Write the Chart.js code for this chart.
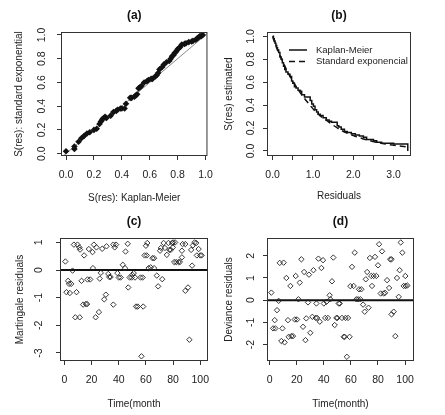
<!DOCTYPE html>
<html>
<head>
<meta charset="utf-8">
<script src="https://cdn.jsdelivr.net/npm/chart.js@4"></script>
<style>
  html, body { margin: 0; padding: 0; background: #fff; }
  #wrap { position: relative; width: 445px; height: 415px; }
  canvas { position: absolute; }
</style>
</head>
<body>
<div id="wrap">
  <canvas id="pa" width="222" height="207" style="left:0;top:0"></canvas>
  <canvas id="pb" width="222" height="207" style="left:222px;top:0"></canvas>
  <canvas id="pc" width="222" height="208" style="left:0;top:207px"></canvas>
  <canvas id="pd" width="222" height="208" style="left:222px;top:207px"></canvas>
</div>
<script>
// (a) survival of residuals: Kaplan-Meier vs standard exponential
const KM_SURV = [0.00,0.06,0.06,0.09,0.11,0.13,0.15,0.17,0.20,0.22,0.24,0.25,0.26,0.27,0.28,0.29,0.32,0.34,0.36,0.37,
  0.39,0.40,0.42,0.43,0.46,0.47,0.49,0.50,0.51,0.52,0.53,0.54,0.56,0.58,0.59,0.61,0.62,0.64,0.65,0.66,
  0.67,0.69,0.70,0.72,0.74,0.75,0.76,0.77,0.78,0.79,0.80,0.81,0.82,0.83,0.85,0.86,0.88,0.90,0.91,0.93,
  0.94,0.95,0.96,0.97,0.98];
const EXP_SURV = [0.02,0.04,0.06,0.10,0.13,0.15,0.17,0.18,0.20,0.21,0.25,0.27,0.29,0.30,0.31,0.30,0.32,0.35,0.36,0.37,
  0.38,0.38,0.38,0.42,0.47,0.47,0.48,0.49,0.50,0.55,0.56,0.57,0.60,0.61,0.62,0.63,0.63,0.65,0.66,0.68,
  0.71,0.73,0.75,0.77,0.78,0.80,0.82,0.83,0.85,0.86,0.88,0.89,0.90,0.92,0.925,0.93,0.94,0.945,0.95,0.96,
  0.97,0.98,0.99,0.99,1.00];

// (b) estimated S(res) against residuals
const KM_T = [0,0.02,0.04,0.06,0.08,0.1,0.12,0.15,0.18,0.21,0.24,0.27,0.3,0.33,0.38,0.43,0.47,0.5,0.54,0.58,
  0.63,0.68,0.72,0.79,0.93,0.97,1.01,1.05,1.09,1.13,1.18,1.25,1.33,1.4,1.46,1.6,1.64,1.7,1.78,1.85,
  1.95,2.05,2.15,2.25,2.33,2.5,2.58,2.7,3.0,3.35];
const KM_S = [1.0,0.98,0.96,0.94,0.92,0.9,0.88,0.86,0.82,0.8,0.77,0.74,0.71,0.69,0.67,0.65,0.61,0.59,0.56,0.55,
  0.53,0.52,0.49,0.47,0.44,0.41,0.39,0.36,0.34,0.32,0.31,0.29,0.27,0.26,0.25,0.22,0.21,0.19,0.17,0.16,
  0.15,0.14,0.13,0.12,0.1,0.09,0.075,0.067,0.06,0.0];
const EXP_X = [0,0.1,0.2,0.3,0.4,0.5,0.7,0.9,1.1,1.4,1.7,2.0,2.4,2.8,3.1,3.4];
const EXP_Y = [1.0,0.9,0.82,0.74,0.67,0.61,0.5,0.41,0.33,0.25,0.18,0.135,0.09,0.06,0.045,0.033];

// (c) martingale residuals against time
const TIME_C = [0.7,1.5,2.7,3.4,4.0,5.0,6.0,7.0,8.0,8.9,9.6,11.0,11.3,11.5,12.6,13.8,14.5,15.8,16.7,17.0,
  18.0,19.0,20.7,21.0,21.7,23.0,23.6,25.4,26.0,26.8,27.8,29.3,30.5,31.0,32.3,33.0,34.0,36.0,36.0,37.0,
  38.0,39.0,40.0,41.4,43.0,44.6,45.0,46.6,47.0,48.0,49.5,50.0,51.0,52.0,52.7,54.0,56.0,56.7,57.6,58.0,
  59.0,60.0,60.6,61.0,62.0,63.5,64.8,66.0,66.0,68.0,69.0,70.4,71.0,72.0,73.0,74.0,75.4,76.6,77.3,78.3,
  79.3,79.8,80.0,80.8,81.5,82.3,84.0,85.0,86.5,86.5,87.0,89.0,89.0,91.0,92.0,93.3,94.0,94.6,95.8,97.0,
  97.5,98.8,100.0,101.0];
const MART_RES = [0.31,-0.80,-0.39,-0.50,-0.83,-0.50,-0.02,0.92,-1.71,-0.80,0.92,0.82,-1.71,0.74,-0.39,-1.25,0.53,-1.23,-1.23,-0.34,
  0.76,-0.34,0.65,0.07,0.92,-1.71,0.82,-1.52,-0.31,-0.10,0.77,-1.06,-0.89,0.86,-0.14,-0.25,-0.25,-1.25,0.92,0.82,
  0.92,-0.11,-0.27,-0.27,0.19,0.07,0.67,0.95,-0.63,-0.27,-0.27,-0.17,-0.11,-0.27,-1.32,-1.32,-0.27,-3.12,-0.27,-1.32,
  0.53,0.88,0.53,0.98,0.07,0.10,0.43,0.43,0.07,-0.20,-0.59,0.70,0.80,-0.33,0.98,0.80,0.55,0.98,0.73,0.73,
  0.98,0.82,1.00,0.29,1.00,0.29,0.29,0.29,0.46,0.70,0.94,0.94,-0.75,-0.63,-2.52,0.73,0.16,0.89,1.00,0.98,
  0.53,0.76,0.53,0.53];

// (d) deviance residuals against time
const TIME_D = [1.2,2.5,3.7,4.2,5.4,6.6,7.4,8.6,9.4,10.3,11.0,12.3,13.5,14.0,15.3,16.0,17.2,18.5,19.2,20.2,
  21.2,22.2,23.4,24.6,25.4,26.4,27.0,28.3,29.0,30.0,31.5,32.3,34.0,34.5,35.0,36.0,37.0,38.2,39.4,40.0,
  41.0,42.0,43.0,44.3,44.8,46.0,47.0,48.0,49.3,50.0,51.0,51.7,53.4,54.7,55.4,56.0,57.0,57.9,59.0,59.6,
  60.8,62.0,62.8,64.0,65.3,66.0,67.0,67.7,69.0,70.2,71.0,72.0,73.0,74.0,75.0,75.6,76.8,77.8,78.8,80.0,
  80.8,82.0,83.0,84.2,85.2,86.7,88.2,89.0,90.0,90.0,91.6,92.8,94.0,95.3,96.0,96.8,98.0,99.0,100.2,100.5,
  101.7];
const DEV_RES = [0.34,-1.27,-0.90,-1.27,-0.45,-0.03,1.68,-1.84,-1.27,1.69,-1.90,1.00,-0.90,-1.65,0.64,-1.62,-1.62,-0.87,1.09,-0.87,
  0.04,0.79,1.84,-1.20,1.27,-1.80,-0.82,-0.10,1.15,-1.47,-0.75,1.35,-0.80,-0.15,-0.80,1.87,-0.97,1.45,1.80,-0.15,
  -0.80,-0.07,-0.80,0.22,0.04,0.85,1.92,-1.12,-0.80,-0.80,-0.15,-0.15,-0.80,-1.65,-1.65,-0.80,-2.55,-0.80,-1.65,0.63,
  1.50,0.64,2.14,0.04,0.04,0.49,0.04,0.49,-0.20,-0.52,0.94,1.27,-0.34,1.90,1.09,0.64,1.09,1.95,1.09,1.57,
  2.52,0.30,2.20,0.30,0.33,0.90,0.55,1.84,1.84,-0.64,-0.52,-1.62,1.00,0.15,1.35,2.60,2.14,0.64,1.09,0.64,
  0.66];

// tick positions
const TICKS_UNIT = [0, 0.2, 0.4, 0.6, 0.8, 1.0];
const TICKS_RES = [0, 0.5, 1, 1.5, 2, 2.5, 3];
const TICKS_TIME = [0, 20, 40, 60, 80, 100];
const TICKS_MART = [-3, -2, -1, 0, 1];
const TICKS_DEV = [-2, -1, 0, 1, 2];

const FONT = "'Liberation Sans', Arial, sans-serif";
const INK = '#222';
Chart.defaults.font.family = FONT;
Chart.defaults.font.size = 10.5;
Chart.defaults.color = INK;

const zip = (xs, ys) => xs.map((x, i) => ({ x, y: ys[i] }));
const one = v => v.toFixed(1);
const intOnly = v => (Number.isInteger(v) ? v.toFixed(1) : '');
const plain = v => String(v);

// box around the plotting region, like R's box()
const frame = {
  id: 'frame',
  afterDatasetsDraw(chart) {
    const { ctx, chartArea: a } = chart;
    ctx.save();
    ctx.strokeStyle = '#333';
    ctx.lineWidth = 1;
    ctx.strokeRect(a.left + 0.5, a.top + 0.5, a.right - a.left - 1, a.bottom - a.top - 1);
    ctx.restore();
  }
};

// abline(h = ...) and abline(0, 1)
const refLines = {
  id: 'refLines',
  beforeDatasetsDraw(chart, args, opts) {
    const { ctx, chartArea: a, scales: { x, y } } = chart;
    ctx.save();
    ctx.beginPath();
    ctx.rect(a.left, a.top, a.right - a.left, a.bottom - a.top);
    ctx.clip();
    if (opts.h !== undefined) {
      const py = y.getPixelForValue(opts.h);
      ctx.strokeStyle = '#111';
      ctx.lineWidth = 2;
      ctx.beginPath();
      ctx.moveTo(a.left, py);
      ctx.lineTo(a.right, py);
      ctx.stroke();
    }
    if (opts.diag) {
      ctx.strokeStyle = '#8a8a8a';
      ctx.lineWidth = 1;
      ctx.beginPath();
      ctx.moveTo(x.getPixelForValue(x.min), y.getPixelForValue(x.min));
      ctx.lineTo(x.getPixelForValue(x.max), y.getPixelForValue(x.max));
      ctx.stroke();
    }
    ctx.restore();
  }
};

// legend without a box, inside the plot (panel b)
const insetLegend = {
  id: 'insetLegend',
  afterDraw(chart, args, opts) {
    if (!opts.show) return;
    const { ctx, chartArea: a } = chart;
    ctx.save();
    ctx.font = '9.5px ' + FONT;
    ctx.textBaseline = 'middle';
    ctx.fillStyle = INK;
    chart.data.datasets.forEach((ds, i) => {
      const y = a.top + opts.top + i * opts.gap;
      ctx.strokeStyle = ds.borderColor;
      ctx.lineWidth = ds.borderWidth;
      ctx.setLineDash(ds.borderDash || []);
      ctx.beginPath();
      ctx.moveTo(a.left + opts.x0, y);
      ctx.lineTo(a.left + opts.x1, y);
      ctx.stroke();
      ctx.setLineDash([]);
      ctx.fillText(ds.label, a.left + opts.tx, y);
    });
    ctx.restore();
  }
};

const tickGrid = { display: true, drawOnChartArea: false, drawTicks: true, tickLength: 4, color: '#333', lineWidth: 1 };

function xScale(c) {
  return {
    type: 'linear', position: 'bottom', min: c.min, max: c.max,
    afterBuildTicks: s => { s.ticks = c.ticks.map(v => ({ value: v })); },
    afterFit: s => { s.height = c.height; },
    grid: tickGrid,
    border: { display: false },
    ticks: { padding: 9, minRotation: 0, maxRotation: 0, autoSkip: false, callback: v => c.fmt(v) },
    title: { display: true, text: c.title, font: { size: 10 }, padding: { top: 0, bottom: c.titlePad } }
  };
}

function yScale(c) {
  return {
    type: 'linear', position: 'left', min: c.min, max: c.max,
    afterBuildTicks: s => { s.ticks = c.ticks.map(v => ({ value: v })); },
    afterFit: s => { s.width = c.width; },
    grid: tickGrid,
    border: { display: false },
    ticks: { padding: c.tickPad, minRotation: 90, maxRotation: 90, crossAlign: 'center', autoSkip: false, callback: v => c.fmt(v) },
    title: { display: true, text: c.title, font: { size: 10 }, padding: { top: c.titlePad, bottom: 0 } }
  };
}

function panel(id, o) {
  return new Chart(document.getElementById(id), {
    type: 'scatter',
    data: { datasets: o.datasets },
    options: {
      responsive: false,
      animation: false,
      events: [],
      layout: { padding: { left: 0, right: o.right, top: 0, bottom: 0 } },
      plugins: {
        legend: { display: false },
        tooltip: { enabled: false },
        title: {
          display: true, text: o.title, fullSize: false, color: '#111',
          font: { size: 12, weight: 'bold' },
          padding: { top: o.titleTop, bottom: o.titleBottom }
        },
        refLines: o.ref || {},
        insetLegend: o.legend || {}
      },
      scales: { x: xScale(o.x), y: yScale(o.y) }
    },
    plugins: [frame, refLines, insetLegend]
  });
}

const diamonds = data => ({
  data, pointStyle: 'rectRot', pointRadius: 2.7, borderWidth: 0.9,
  borderColor: '#222', backgroundColor: 'rgba(0,0,0,0)'
});

panel('pa', {
  title: '(a)', titleTop: 8.8, titleBottom: 8.8, right: 14, ref: { diag: true },
  datasets: [{
    data: zip(KM_SURV, EXP_SURV), pointStyle: 'rectRot', pointRadius: 3.3,
    borderWidth: 0, backgroundColor: '#111'
  }],
  x: { min: -0.036, max: 1.014, ticks: TICKS_UNIT, fmt: one, height: 51, title: 'S(res): Kaplan-Meier', titlePad: 2.7 },
  y: { min: -0.02, max: 1.025, ticks: TICKS_UNIT, fmt: one, width: 61, tickPad: 7.2, title: 'S(res): standard exponential', titlePad: 13.5 }
});

panel('pb', {
  title: '(b)', titleTop: 8.8, titleBottom: 8.8, right: 33,
  legend: { show: true, top: 18, gap: 11.5, x0: 22, x1: 40, tx: 49 },
  datasets: [
    { type: 'line', label: 'Kaplan-Meier', data: zip(KM_T, KM_S), stepped: true,
      borderColor: '#111', borderWidth: 1.5, pointRadius: 0, fill: false },
    { type: 'line', label: 'Standard exponencial', data: zip(EXP_X, EXP_Y), cubicInterpolationMode: 'monotone',
      borderColor: '#111', borderWidth: 1.5, borderDash: [6, 4], pointRadius: 0, fill: false }
  ],
  x: { min: -0.14, max: 3.43, ticks: TICKS_RES, fmt: intOnly, height: 51, title: 'Residuals', titlePad: 4.3 },
  y: { min: -0.044, max: 1.038, ticks: TICKS_UNIT, fmt: one, width: 45, tickPad: 4.3, title: 'S(res) estimated', titlePad: 1.3 }
});

panel('pc', {
  title: '(c)', titleTop: 7.8, titleBottom: 8.8, right: 14, ref: { h: 0 },
  datasets: [diamonds(zip(TIME_C, MART_RES))],
  x: { min: -3.25, max: 105.7, ticks: TICKS_TIME, fmt: plain, height: 54, title: 'Time(month', titlePad: 5 },
  y: { min: -3.29, max: 1.16, ticks: TICKS_MART, fmt: plain, width: 60, tickPad: 12, title: 'Martingale residuals', titlePad: 14 }
});

panel('pd', {
  title: '(d)', titleTop: 7.8, titleBottom: 8.8, right: 30, ref: { h: 0 },
  datasets: [diamonds(zip(TIME_D, DEV_RES))],
  x: { min: -2.0, max: 106.6, ticks: TICKS_TIME, fmt: plain, height: 54, title: 'Time(month)', titlePad: 5 },
  y: { min: -2.74, max: 2.8, ticks: TICKS_DEV, fmt: plain, width: 45, tickPad: 6.9, title: 'Deviance residuals', titlePad: 1.3 }
});
</script>
</body>
</html>
